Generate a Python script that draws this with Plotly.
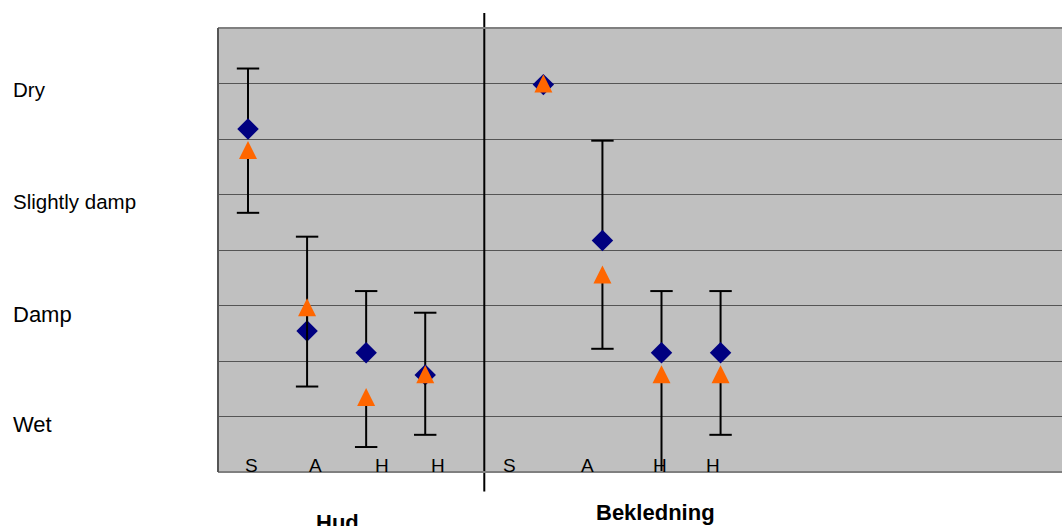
import plotly.graph_objects as go

# ---- data ----
groups = ["Hud", "Bekledning"]
point_labels = ["S", "A", "H", "H", "S", "A", "H", "H"]
group_of_point = [0, 0, 0, 0, 1, 1, 1, 1]

diamond_vals = [6.18, 2.54, 2.15, 1.75, 6.98, 4.17, 2.15, 2.15]
diamond_upper = [7.27, 4.24, 3.26, 2.87, None, 5.97, 3.26, 3.26]
triangle_vals = [5.80, 2.97, 1.35, 1.76, 7.00, 3.56, 1.76, 1.76]
triangle_lower = [4.67, 1.54, 0.45, 0.67, None, 2.22, -0.05, 0.67]

y_labels = ["Dry", "Slightly damp", "Damp", "Wet"]

# ---- layout helpers ----
# x positions: index within group, with one empty slot between groups
x_pos = [i + 1 + g for i, g in enumerate(group_of_point)]
sep_x = 5

def err(vals, bounds, up=True):
    out = []
    for v, b in zip(vals, bounds):
        if b is None:
            out.append(float("nan"))
        else:
            out.append((b - v) if up else (v - b))
    return out

fig = go.Figure()

# error bar stems (no caps)
fig.add_trace(go.Scatter(
    x=x_pos, y=diamond_vals, mode="markers",
    marker=dict(symbol="diamond", size=16.5, color="#000080", line=dict(width=0)),
    error_y=dict(type="data", symmetric=False,
                 array=err(diamond_vals, diamond_upper, True),
                 arrayminus=[0] * len(diamond_vals),
                 color="black", thickness=2, width=0),
    showlegend=False, cliponaxis=False,
))
# caps at the whisker ends
fig.add_trace(go.Scatter(
    x=x_pos + x_pos, y=diamond_upper + triangle_lower, mode="markers",
    marker=dict(symbol="line-ew", size=16, color="black",
                line=dict(width=2, color="black")),
    showlegend=False, cliponaxis=False,
))
fig.add_trace(go.Scatter(
    x=x_pos, y=triangle_vals, mode="markers",
    marker=dict(symbol="arrow-down", size=18, angle=180, standoff=9,
                color="#FF6600", line=dict(width=0)),
    error_y=dict(type="data", symmetric=False,
                 array=[0] * len(triangle_vals),
                 arrayminus=err(triangle_vals, triangle_lower, False),
                 color="black", thickness=2, width=0),
    showlegend=False, cliponaxis=False,
))

annotations = []
# y-axis category labels
ylab_pos = [6.9, 4.87, 2.84, 0.86]
ylab_size = [20.5, 20.5, 22, 22]
for t, yv, fs in zip(y_labels, ylab_pos, ylab_size):
    annotations.append(dict(text=t, xref="paper", x=-0.2455, yref="y", y=yv,
                            xanchor="left", yanchor="middle", showarrow=False,
                            font=dict(size=fs, color="black", family="Liberation Sans, Arial")))
# point letters inside plot
letter_x = [1.063, 2.148, 3.265, 4.212, 5.432, 6.753, 7.973, 8.868]
for t, xv in zip(point_labels, letter_x):
    annotations.append(dict(text=t, xref="x", x=xv, yref="y", y=0.11,
                            xanchor="center", yanchor="middle", showarrow=False,
                            font=dict(size=19, color="black", family="Liberation Sans, Arial")))
# group labels
group_x = [2.514, 7.904]
group_y = [-0.1138, -0.0913]
for t, xv, yv in zip(groups, group_x, group_y):
    annotations.append(dict(text="<b>" + t + "</b>", xref="x", x=xv, yref="paper", y=yv,
                            xanchor="center", yanchor="middle", showarrow=False,
                            font=dict(size=22, color="black", family="Liberation Sans, Arial")))

shapes = [
    dict(type="line", xref="x", x0=sep_x, x1=sep_x, yref="paper", y0=-0.044, y1=1.034,
         line=dict(color="black", width=2)),
    # plot border top/bottom/left
    dict(type="line", xref="paper", x0=0, x1=1, yref="paper", y0=1, y1=1,
         line=dict(color="#808080", width=2)),
    dict(type="line", xref="paper", x0=0, x1=1, yref="paper", y0=0, y1=0,
         line=dict(color="#808080", width=2)),
    dict(type="line", xref="paper", x0=0, x1=0, yref="paper", y0=0, y1=1,
         line=dict(color="#555555", width=2)),
]

fig.update_layout(
    width=1062, height=526,
    margin=dict(l=218, r=0, t=28, b=54),
    paper_bgcolor="white", plot_bgcolor="#C0C0C0",
    xaxis=dict(range=[0.492, 14.78], showgrid=False, zeroline=False,
               showticklabels=False, ticks=""),
    yaxis=dict(range=[0, 8], dtick=1, showgrid=True, gridcolor="#555555", gridwidth=1,
               zeroline=False, showticklabels=False, ticks=""),
    annotations=annotations, shapes=shapes,
)

fig.write_html("out.html")
